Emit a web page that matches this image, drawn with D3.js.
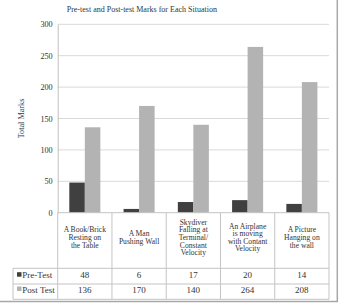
<!DOCTYPE html>
<html><head><meta charset="utf-8">
<script src="https://cdn.jsdelivr.net/npm/d3@7"></script>
<style>html,body{margin:0;padding:0;background:#fff;}svg{display:block;}</style>
</head><body>
<script>
const categories = [
  ["A Book/Brick","Resting on","the Table"],
  ["A Man","Pushing Wall"],
  ["Skydiver","Falling at","Terminal/","Constant","Velocity"],
  ["An Airplane","is moving","with Contant","Velocity"],
  ["A Picture","Hanging on","the wall"]
];
const seriesNames = ["Pre-Test","Post Test"];
const preTest = [48, 6, 17, 20, 14];
const postTest = [136, 170, 140, 264, 208];
const yTicks = [0, 50, 100, 150, 200, 250, 300];
const chartTitle = "Pre-test and Post-test Marks for Each Situation";
const yTitle = "Total Marks";
const colors = ["#404040", "#b3b3b3"];

(function () {
const W = 340, H = 303;
const font = "'Liberation Serif','Times New Roman',serif";
const txt = "#333";
const svg = d3.select("body").append("svg").attr("width", W).attr("height", H)
  .style("font-family", font);

const pL = 57.7, pR = 329, pT = 24.3, pB = 212.7;
const tableTop = pB, row1 = 268.3, row2 = 284, row3 = 299.3, legLeft = 13;

const idx = d3.range(categories.length);
const x = d3.scaleBand().domain(idx).range([pL, pR]).padding(0);
const bw = x.bandwidth();
const x1 = d3.scaleBand().domain(seriesNames).range([bw * 0.214, bw * 0.786]).padding(0);
const y = d3.scaleLinear().domain([0, 300]).range([pB, pT]);

// gridlines
svg.append("g").selectAll("line").data(yTicks.filter(d => d > 0)).join("line")
  .attr("x1", pL).attr("x2", pR)
  .attr("y1", d => y(d)).attr("y2", d => y(d))
  .attr("stroke", "#d9d9d9").attr("stroke-width", 1);

// y axis
const yAxis = d3.axisLeft(y).tickValues(yTicks).tickSize(0).tickPadding(5);
const ga = svg.append("g").attr("transform", `translate(${pL},0)`).call(yAxis);
ga.select(".domain").attr("stroke", "#c0c0c0");
ga.selectAll("text").attr("font-family", font).attr("font-size", 8.2).attr("fill", txt);

// bars
const data = [preTest, postTest];
seriesNames.forEach((s, si) => {
  svg.append("g").selectAll("rect").data(data[si]).join("rect")
    .attr("x", (d, i) => x(i) + x1(s))
    .attr("width", x1.bandwidth())
    .attr("y", d => y(d))
    .attr("height", d => y(0) - y(d))
    .attr("fill", colors[si]);
});

// table lines
const lc = "#c4c4c4";
const tl = svg.append("g").attr("stroke", lc).attr("stroke-width", 1);
tl.append("line").attr("x1", pL).attr("x2", pR).attr("y1", tableTop).attr("y2", tableTop);
[row1, row2, row3].forEach(r => tl.append("line").attr("x1", legLeft).attr("x2", pR).attr("y1", r).attr("y2", r));
idx.forEach(i => tl.append("line").attr("x1", x(i)).attr("x2", x(i)).attr("y1", tableTop).attr("y2", row3));
tl.append("line").attr("x1", pR).attr("x2", pR).attr("y1", tableTop).attr("y2", row3);
tl.append("line").attr("x1", legLeft).attr("x2", legLeft).attr("y1", row1).attr("y2", row3);

// category labels
const lh = 7.6, cfs = 7.6;
idx.forEach(i => {
  const lines = categories[i];
  const n = lines.length;
  const t = svg.append("text").attr("text-anchor", "middle").attr("font-size", cfs).attr("fill", txt);
  lines.forEach((ln, k) => {
    t.append("tspan").attr("x", x(i) + bw / 2)
      .attr("y", 240 + (k - (n - 1) / 2) * lh).text(ln);
  });
});

// values
const rowsY = [278.4, 292.7];
data.forEach((arr, si) => {
  svg.append("g").selectAll("text").data(arr).join("text")
    .attr("x", (d, i) => x(i) + bw / 2).attr("y", rowsY[si])
    .attr("text-anchor", "middle").attr("font-size", 9).attr("fill", txt)
    .text(d => d);
  svg.append("rect").attr("x", 17).attr("y", rowsY[si] - 6.2).attr("width", 4.5).attr("height", 4.5).attr("fill", colors[si]);
  svg.append("text").attr("x", 22.3).attr("y", rowsY[si]).attr("font-size", 9).attr("fill", txt).text(seriesNames[si]);
});

// titles
svg.append("text").attr("x", 66.7).attr("y", 12.3).attr("font-size", 8).attr("fill", txt).text(chartTitle);
svg.append("text").attr("transform", `translate(23.6,${(pT + pB) / 2}) rotate(-90)`)
  .attr("text-anchor", "middle").attr("font-size", 8.2).attr("fill", txt).text(yTitle);

// outer frame (right + bottom)
svg.append("line").attr("x1", 337.3).attr("x2", 337.3).attr("y1", 0).attr("y2", 302).attr("stroke", "#a8a8a8").attr("stroke-width", 1.5);
svg.append("line").attr("x1", 0).attr("x2", 338).attr("y1", 301.5).attr("y2", 301.5).attr("stroke", "#a8a8a8").attr("stroke-width", 1.5);
})();
</script>
</body></html>
